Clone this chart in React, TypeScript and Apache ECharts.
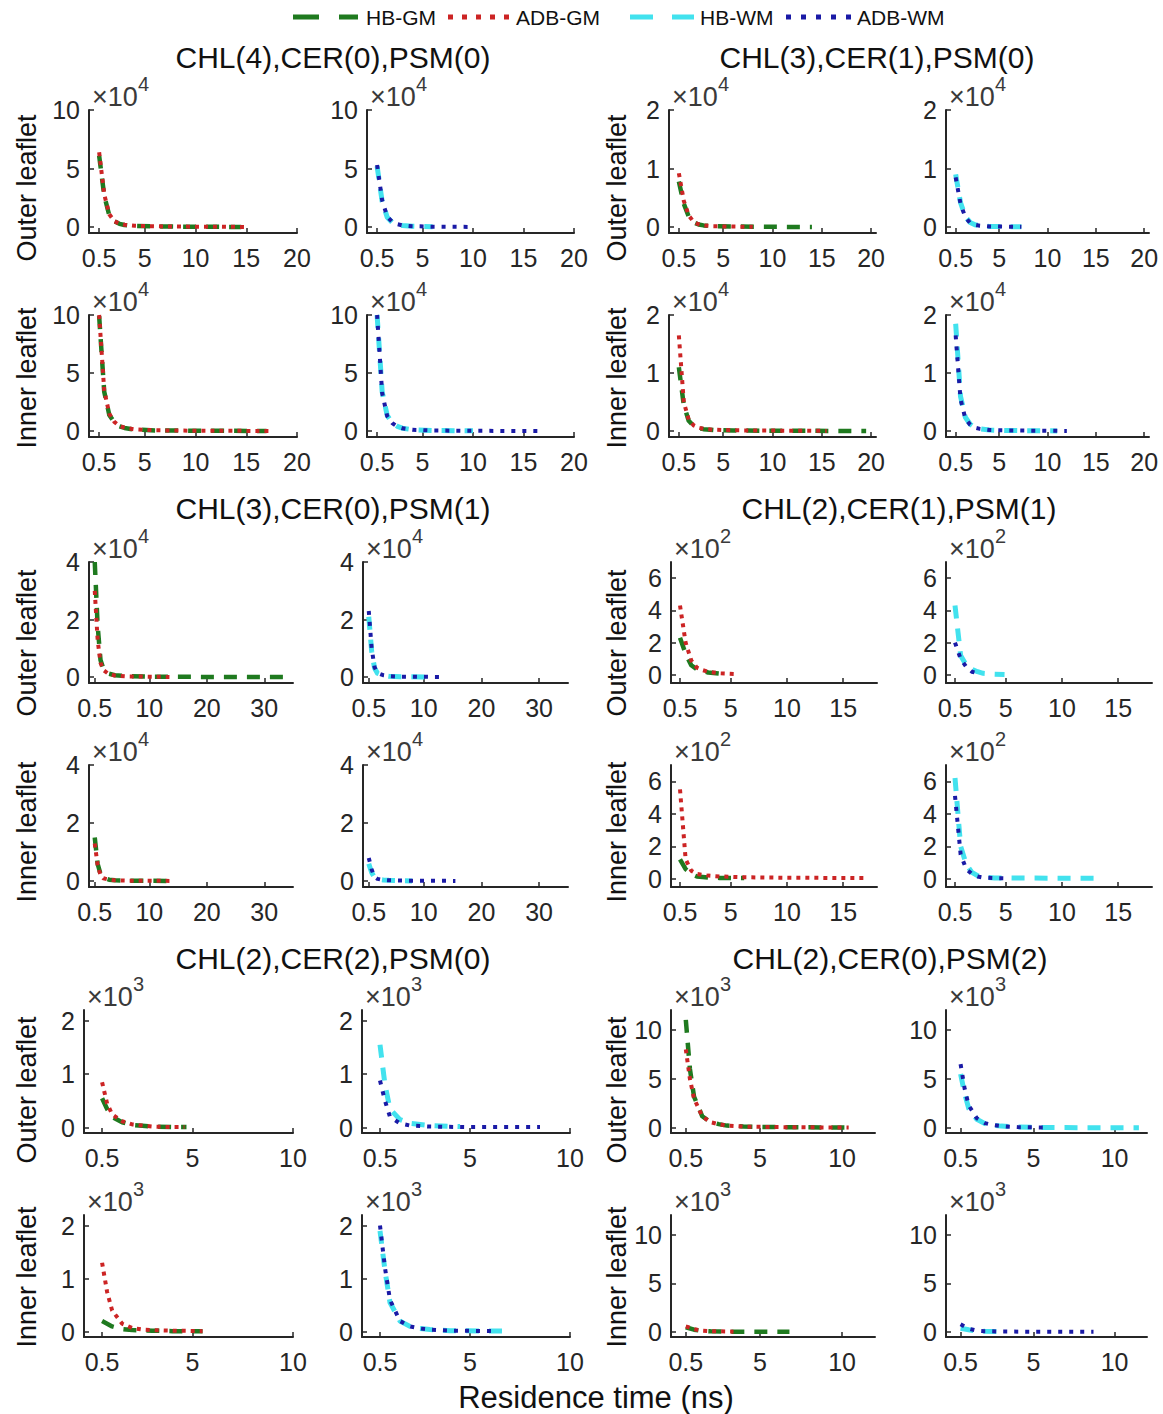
import React, { useEffect, useRef } from 'react';
import * as echarts from 'echarts';

type Pt = [number, number];

// ---------------- texts ----------------
const SERIES_NAMES = ['HB-GM', 'ADB-GM', 'HB-WM', 'ADB-WM'];
const GROUP_TITLES = [
  'CHL(4),CER(0),PSM(0)',
  'CHL(3),CER(1),PSM(0)',
  'CHL(3),CER(0),PSM(1)',
  'CHL(2),CER(1),PSM(1)',
  'CHL(2),CER(2),PSM(0)',
  'CHL(2),CER(0),PSM(2)',
];
const LEAFLET_NAMES = ['Outer leaflet', 'Inner leaflet'];
const X_AXIS_TITLE = 'Residence time (ns)';

// ---------------- axes (per group) ----------------
const GROUP_EXPONENTS = [4, 4, 4, 2, 3, 3];
const GROUP_X_TICKS = [
  [0.5, 5, 10, 15, 20],
  [0.5, 5, 10, 15, 20],
  [0.5, 10, 20, 30],
  [0.5, 5, 10, 15],
  [0.5, 5, 10],
  [0.5, 5, 10],
];
const GROUP_Y_TICKS = [
  [0, 5, 10],
  [0, 1, 2],
  [0, 2, 4],
  [0, 2, 4, 6],
  [0, 1, 2],
  [0, 5, 10],
];
const GROUP_X_LIMITS = [
  [-0.5, 20],
  [-0.5, 20.5],
  [-0.5, 35],
  [-0.3, 18],
  [-0.4, 10],
  [-0.4, 12],
];
const GROUP_Y_LIMITS = [
  [-0.5, 10],
  [-0.1, 2],
  [-0.2, 4],
  [-0.5, 7],
  [-0.1, 2.2],
  [-0.5, 12],
];

// ---------------- data (values in units of 10^exponent) ----------------
// Group 1: CHL(4),CER(0),PSM(0)  x10^4
const D1_OUT_HBGM: Pt[] = [[0.5, 6.1], [1, 2.7], [1.5, 1.0], [2, 0.5], [2.5, 0.28], [3, 0.18], [4, 0.1], [6, 0.06], [10, 0.03], [14.5, 0.02]];
const D1_OUT_ADBGM: Pt[] = [[0.5, 6.4], [1, 2.8], [1.5, 1.1], [2, 0.5], [2.5, 0.3], [3, 0.2], [4, 0.12], [6, 0.07], [10, 0.04], [15, 0.02]];
const D1_OUT_HBWM: Pt[] = [[0.5, 5.2], [1, 2.2], [1.5, 0.85], [2, 0.4], [2.5, 0.22], [3, 0.14], [4, 0.07], [6, 0.03]];
const D1_OUT_ADBWM: Pt[] = [[0.5, 5.3], [1, 2.3], [1.5, 0.9], [2, 0.45], [2.5, 0.25], [3, 0.15], [4, 0.08], [6, 0.04], [10, 0.02]];
const D1_IN_HBGM: Pt[] = [[0.5, 9.9], [1, 3.4], [1.5, 1.4], [2, 0.75], [2.5, 0.42], [3, 0.28], [4, 0.14], [6, 0.07], [10, 0.04], [17, 0.02]];
const D1_IN_ADBGM: Pt[] = [[0.5, 10], [1, 3.5], [1.5, 1.5], [2, 0.8], [2.5, 0.45], [3, 0.3], [4, 0.15], [6, 0.08], [10, 0.04], [17.5, 0.02]];
const D1_IN_HBWM: Pt[] = [[0.5, 10], [1, 3.4], [1.5, 1.35], [2, 0.72], [2.5, 0.42], [3, 0.26], [4, 0.13], [6, 0.06], [10, 0.03]];
const D1_IN_ADBWM: Pt[] = [[0.5, 10], [1, 3.3], [1.5, 1.3], [2, 0.7], [2.5, 0.4], [3, 0.25], [4, 0.12], [6, 0.06], [10, 0.03], [16.5, 0.02]];

// Group 2: CHL(3),CER(1),PSM(0)  x10^4
const D2_OUT_HBGM: Pt[] = [[0.5, 0.78], [1, 0.4], [1.5, 0.18], [2, 0.08], [2.5, 0.045], [3, 0.03], [4, 0.015], [6, 0.01], [10, 0.005], [14, 0.003]];
const D2_OUT_ADBGM: Pt[] = [[0.5, 0.92], [1, 0.45], [1.5, 0.2], [2, 0.09], [2.5, 0.05], [3, 0.03], [4, 0.015], [6, 0.01], [8, 0.005]];
const D2_OUT_HBWM: Pt[] = [[0.5, 0.9], [1, 0.42], [1.5, 0.18], [2, 0.08], [2.5, 0.04], [3, 0.025], [4, 0.012], [7.3, 0.005]];
const D2_OUT_ADBWM: Pt[] = [[0.5, 0.85], [1, 0.4], [1.5, 0.17], [2, 0.07], [2.5, 0.04], [3, 0.025], [4, 0.012], [7.3, 0.005]];
const D2_IN_HBGM: Pt[] = [[0.5, 1.1], [1, 0.45], [1.5, 0.18], [2, 0.09], [2.5, 0.055], [3, 0.035], [4, 0.02], [6, 0.012], [10, 0.008], [16, 0.005], [19.5, 0.003]];
const D2_IN_ADBGM: Pt[] = [[0.5, 1.65], [1, 0.5], [1.5, 0.2], [2, 0.1], [2.5, 0.06], [3, 0.04], [4, 0.025], [6, 0.015], [10, 0.01], [15.5, 0.005]];
const D2_IN_HBWM: Pt[] = [[0.5, 1.85], [1, 0.6], [1.5, 0.24], [2, 0.12], [2.5, 0.065], [3, 0.04], [4, 0.02], [6, 0.012], [11, 0.005]];
const D2_IN_ADBWM: Pt[] = [[0.5, 1.65], [1, 0.55], [1.5, 0.22], [2, 0.11], [2.5, 0.06], [3, 0.04], [4, 0.02], [6, 0.012], [12, 0.005]];

// Group 3: CHL(3),CER(0),PSM(1)  x10^4
const D3_OUT_HBGM: Pt[] = [[0.5, 4.0], [1, 1.8], [1.5, 0.6], [2, 0.3], [3, 0.12], [4, 0.07], [6, 0.04], [10, 0.02], [20, 0.01], [34, 0.005]];
const D3_OUT_ADBGM: Pt[] = [[0.5, 3.0], [1, 1.3], [1.5, 0.5], [2, 0.25], [3, 0.1], [4, 0.06], [6, 0.03], [10, 0.02], [13.5, 0.01]];
const D3_OUT_HBWM: Pt[] = [[0.5, 2.1], [1, 0.9], [1.5, 0.32], [2, 0.14], [3, 0.06], [4, 0.035], [6, 0.02], [11.5, 0.01]];
const D3_OUT_ADBWM: Pt[] = [[0.5, 2.3], [1, 1.0], [1.5, 0.35], [2, 0.15], [3, 0.07], [4, 0.04], [6, 0.02], [13.5, 0.01]];
const D3_IN_HBGM: Pt[] = [[0.5, 1.5], [1, 0.6], [1.5, 0.25], [2, 0.12], [3, 0.05], [4, 0.03], [6, 0.02], [13, 0.01]];
const D3_IN_ADBGM: Pt[] = [[0.5, 1.3], [1, 0.55], [1.5, 0.22], [2, 0.1], [3, 0.05], [4, 0.03], [6, 0.02], [13.5, 0.01]];
const D3_IN_HBWM: Pt[] = [[0.5, 0.6], [1, 0.3], [1.5, 0.12], [2, 0.07], [3, 0.04], [4, 0.03], [6, 0.02], [8, 0.01]];
const D3_IN_ADBWM: Pt[] = [[0.5, 0.8], [1, 0.4], [1.5, 0.15], [2, 0.08], [3, 0.04], [4, 0.03], [6, 0.02], [15.5, 0.01]];

// Group 4: CHL(2),CER(1),PSM(1)  x10^2
const D4_OUT_HBGM: Pt[] = [[0.5, 2.3], [1, 1.3], [1.5, 0.6], [2, 0.35], [2.5, 0.25], [3, 0.15], [4, 0.08], [4.8, 0.05]];
const D4_OUT_ADBGM: Pt[] = [[0.5, 4.3], [1, 2.0], [1.5, 0.9], [2, 0.45], [2.5, 0.3], [3, 0.2], [4, 0.1], [5.7, 0.05]];
const D4_OUT_HBWM: Pt[] = [[0.5, 4.3], [1, 1.2], [1.5, 0.6], [2, 0.35], [2.5, 0.2], [3, 0.1], [4, 0.05], [4.9, 0.03]];
const D4_OUT_ADBWM: Pt[] = [[0.5, 2.0], [1, 1.0], [1.5, 0.5], [2, 0.2], [2.7, 0.08]];
const D4_IN_HBGM: Pt[] = [[0.5, 1.2], [1, 0.6], [1.5, 0.3], [2, 0.15], [3, 0.08], [4, 0.06], [6.2, 0.05]];
const D4_IN_ADBGM: Pt[] = [[0.5, 5.5], [1, 1.2], [1.5, 0.5], [2, 0.3], [3, 0.2], [4, 0.15], [6, 0.1], [10, 0.07], [16.8, 0.05]];
const D4_IN_HBWM: Pt[] = [[0.5, 6.2], [1, 2.0], [1.5, 0.9], [2, 0.4], [2.5, 0.2], [3, 0.1], [4, 0.06], [6, 0.05], [10, 0.04], [13, 0.03]];
const D4_IN_ADBWM: Pt[] = [[0.5, 5.1], [1, 1.5], [1.5, 0.6], [2, 0.3], [2.5, 0.15], [3, 0.08], [4, 0.05], [5.3, 0.03]];

// Group 5: CHL(2),CER(2),PSM(0)  x10^3
const D5_OUT_HBGM: Pt[] = [[0.5, 0.55], [0.75, 0.35], [1, 0.2], [1.5, 0.1], [2, 0.05], [2.5, 0.035], [3, 0.02], [4, 0.01], [4.7, 0.01]];
const D5_OUT_ADBGM: Pt[] = [[0.5, 0.85], [0.75, 0.45], [1, 0.25], [1.5, 0.12], [2, 0.06], [2.5, 0.04], [3, 0.02], [4, 0.01], [4.6, 0.01]];
const D5_OUT_HBWM: Pt[] = [[0.5, 1.55], [0.75, 0.8], [1, 0.35], [1.5, 0.15], [2, 0.08], [3, 0.04], [4.5, 0.02]];
const D5_OUT_ADBWM: Pt[] = [[0.5, 0.88], [0.75, 0.5], [1, 0.2], [1.5, 0.08], [2, 0.04], [3, 0.02], [5, 0.01], [8.5, 0.01]];
const D5_IN_HBGM: Pt[] = [[0.5, 0.2], [0.75, 0.15], [1, 0.1], [1.5, 0.05], [2, 0.03], [3, 0.02], [4, 0.01], [5.5, 0.01]];
const D5_IN_ADBGM: Pt[] = [[0.5, 1.3], [0.75, 0.75], [1, 0.4], [1.5, 0.15], [2, 0.07], [2.5, 0.04], [3, 0.03], [4, 0.02], [5.5, 0.01]];
const D5_IN_HBWM: Pt[] = [[0.5, 1.9], [0.75, 1.15], [1, 0.55], [1.5, 0.2], [2, 0.1], [2.5, 0.06], [3, 0.04], [4, 0.02], [7, 0.01]];
const D5_IN_ADBWM: Pt[] = [[0.5, 2.0], [0.75, 1.2], [1, 0.6], [1.5, 0.2], [2, 0.1], [2.5, 0.06], [3, 0.04], [4, 0.02], [6.4, 0.01]];

// Group 6: CHL(2),CER(0),PSM(2)  x10^3
const D6_OUT_HBGM: Pt[] = [[0.5, 11], [0.75, 6], [1, 3.2], [1.5, 1.2], [2, 0.6], [2.5, 0.4], [3, 0.25], [4, 0.15], [6, 0.1], [10.4, 0.05]];
const D6_OUT_ADBGM: Pt[] = [[0.5, 8], [0.75, 5], [1, 3], [1.5, 1.2], [2, 0.6], [2.5, 0.4], [3, 0.25], [4, 0.15], [6, 0.1], [10.4, 0.05]];
const D6_OUT_HBWM: Pt[] = [[0.5, 5.5], [0.75, 3.5], [1, 2.0], [1.5, 0.9], [2, 0.45], [2.5, 0.3], [3, 0.2], [4, 0.1], [6, 0.05], [11.5, 0.03]];
const D6_OUT_ADBWM: Pt[] = [[0.5, 6.5], [0.75, 4], [1, 2.3], [1.5, 1.0], [2, 0.5], [2.5, 0.3], [3, 0.2], [4, 0.1], [5.9, 0.05]];
const D6_IN_HBGM: Pt[] = [[0.5, 0.5], [1, 0.25], [1.5, 0.12], [2, 0.08], [3, 0.05], [6.8, 0.03]];
const D6_IN_ADBGM: Pt[] = [[0.5, 0.6], [1, 0.3], [1.5, 0.15], [2, 0.1], [3.4, 0.05]];
const D6_IN_HBWM: Pt[] = [[0.5, 0.4], [1, 0.25], [1.5, 0.12], [2, 0.08], [2.8, 0.05]];
const D6_IN_ADBWM: Pt[] = [[0.5, 0.8], [1, 0.35], [1.5, 0.15], [2, 0.1], [3, 0.06], [5, 0.04], [8.7, 0.03]];

const GROUP_DATA: Pt[][][][] = [
  [[D1_OUT_HBGM, D1_OUT_ADBGM, D1_OUT_HBWM, D1_OUT_ADBWM], [D1_IN_HBGM, D1_IN_ADBGM, D1_IN_HBWM, D1_IN_ADBWM]],
  [[D2_OUT_HBGM, D2_OUT_ADBGM, D2_OUT_HBWM, D2_OUT_ADBWM], [D2_IN_HBGM, D2_IN_ADBGM, D2_IN_HBWM, D2_IN_ADBWM]],
  [[D3_OUT_HBGM, D3_OUT_ADBGM, D3_OUT_HBWM, D3_OUT_ADBWM], [D3_IN_HBGM, D3_IN_ADBGM, D3_IN_HBWM, D3_IN_ADBWM]],
  [[D4_OUT_HBGM, D4_OUT_ADBGM, D4_OUT_HBWM, D4_OUT_ADBWM], [D4_IN_HBGM, D4_IN_ADBGM, D4_IN_HBWM, D4_IN_ADBWM]],
  [[D5_OUT_HBGM, D5_OUT_ADBGM, D5_OUT_HBWM, D5_OUT_ADBWM], [D5_IN_HBGM, D5_IN_ADBGM, D5_IN_HBWM, D5_IN_ADBWM]],
  [[D6_OUT_HBGM, D6_OUT_ADBGM, D6_OUT_HBWM, D6_OUT_ADBWM], [D6_IN_HBGM, D6_IN_ADBGM, D6_IN_HBWM, D6_IN_ADBWM]],
];

// ---------------- styles & layout ----------------
const FONT = '"Liberation Sans", Arial, Helvetica, sans-serif';
const INK = '#262626';
const SERIES_STYLE = [
  { color: '#1f7a1f', width: 4.5, dash: [13, 10] },
  { color: '#cc2424', width: 4, dash: [4, 5] },
  { color: '#42e2ee', width: 5, dash: [13, 10] },
  { color: '#1a1aa6', width: 4, dash: [4, 7] },
];
const LEGEND_SAMPLE_DASH = [[26, 20], [5, 9], [23, 19], [5, 10]];
const LEGEND_SAMPLE_X = [[293, 358], [448, 510], [630, 694], [786, 852]];
const LEGEND_TEXT_X = [366, 516, 700, 857];
const LEGEND_Y = 17;

const COL_X: number[][][] = [
  [[89, 297], [367, 574], [669, 876], [946, 1149]],
  [[89, 293], [363, 568], [671, 877], [946, 1152]],
  [[84, 293], [362, 570], [671, 875], [946, 1147]],
];
const ROW_Y: number[][][] = [
  [[110, 233], [315, 437]],
  [[562, 683], [765, 887]],
  [[1010, 1133], [1215, 1337]],
];
const TITLE_POS = [[333, 57], [877, 57], [333, 508], [899, 508], [333, 958], [890, 958]];
const NAME_X = [27, 617];
const NAME_Y = [[188, 378], [643, 832], [1090, 1277]];

function buildOption() {
  const grid: any[] = [];
  const xAxis: any[] = [];
  const yAxis: any[] = [];
  const series: any[] = [];
  const graphic: any[] = [];

  for (let g = 0; g < 6; g++) {
    const row = Math.floor(g / 2);
    const side = g % 2;
    graphic.push({
      type: 'text', x: TITLE_POS[g][0], y: TITLE_POS[g][1], silent: true,
      style: { text: GROUP_TITLES[g], font: `30px ${FONT}`, fill: '#111', align: 'center', verticalAlign: 'middle' },
    });
    for (let leaf = 0; leaf < 2; leaf++) {
      for (let env = 0; env < 2; env++) {
        const col = side * 2 + env;
        const idx = grid.length;
        const [x0, x1] = COL_X[row][col];
        const [y0, y1] = ROW_Y[row][leaf];
        grid.push({ left: x0, top: y0, width: x1 - x0, height: y1 - y0, containLabel: false, outerBoundsMode: 'none' });
        xAxis.push({
          type: 'value', gridIndex: idx, min: GROUP_X_LIMITS[g][0], max: GROUP_X_LIMITS[g][1],
          splitLine: { show: false },
          axisLine: { show: true, onZero: false, lineStyle: { color: INK, width: 2 } },
          axisTick: { show: true, inside: true, length: 5, customValues: GROUP_X_TICKS[g], lineStyle: { color: INK, width: 1.5 } },
          axisLabel: { show: true, customValues: GROUP_X_TICKS[g], fontSize: 25, fontFamily: FONT, color: INK, margin: 12, formatter: (v: number) => String(v) },
        });
        yAxis.push({
          type: 'value', gridIndex: idx, min: GROUP_Y_LIMITS[g][0], max: GROUP_Y_LIMITS[g][1],
          splitLine: { show: false },
          axisLine: { show: true, onZero: false, lineStyle: { color: INK, width: 2 } },
          axisTick: { show: true, inside: true, length: 5, customValues: GROUP_Y_TICKS[g], lineStyle: { color: INK, width: 1.5 } },
          axisLabel: { show: true, customValues: GROUP_Y_TICKS[g], fontSize: 25, fontFamily: FONT, color: INK, margin: 9, formatter: (v: number) => String(v) },
        });
        for (let k = 0; k < 2; k++) {
          const si = env * 2 + k;
          const st = SERIES_STYLE[si];
          series.push({
            type: 'line', name: SERIES_NAMES[si], xAxisIndex: idx, yAxisIndex: idx,
            data: GROUP_DATA[g][leaf][si], showSymbol: false, symbol: 'none', silent: true,
            z: 2 + k,
            lineStyle: { color: st.color, width: st.width, type: st.dash, cap: 'butt', join: 'round' },
          });
        }
        // multiplier label
        graphic.push({
          type: 'text', x: x0 + 3, y: y0 - 13, silent: true,
          style: { text: '×10', font: `27px ${FONT}`, fill: '#3a3a3a', align: 'left', verticalAlign: 'middle' },
        });
        graphic.push({
          type: 'text', x: x0 + 49, y: y0 - 26, silent: true,
          style: { text: String(GROUP_EXPONENTS[g]), font: `20px ${FONT}`, fill: '#3a3a3a', align: 'left', verticalAlign: 'middle' },
        });
        if (env === 0) {
          graphic.push({
            type: 'text', x: NAME_X[side], y: NAME_Y[row][leaf], rotation: Math.PI / 2, silent: true,
            style: { text: LEAFLET_NAMES[leaf], font: `27px ${FONT}`, fill: '#111', align: 'center', verticalAlign: 'middle' },
          });
        }
      }
    }
  }

  // legend
  for (let i = 0; i < 4; i++) {
    const st = SERIES_STYLE[i];
    graphic.push({
      type: 'line', silent: true,
      shape: { x1: LEGEND_SAMPLE_X[i][0], y1: LEGEND_Y, x2: LEGEND_SAMPLE_X[i][1], y2: LEGEND_Y },
      style: { stroke: st.color, lineWidth: 5, lineDash: LEGEND_SAMPLE_DASH[i], lineCap: 'butt' },
    });
    graphic.push({
      type: 'text', x: LEGEND_TEXT_X[i], y: LEGEND_Y, silent: true,
      style: { text: SERIES_NAMES[i], font: `21px ${FONT}`, fill: '#111', align: 'left', verticalAlign: 'middle' },
    });
  }

  graphic.push({
    type: 'text', x: 596, y: 1397, silent: true,
    style: { text: X_AXIS_TITLE, font: `31px ${FONT}`, fill: '#111', align: 'center', verticalAlign: 'middle' },
  });

  return {
    animation: false,
    backgroundColor: '#ffffff',
    grid, xAxis, yAxis, series, graphic,
  };
}

export default function App() {
  const ref = useRef<HTMLDivElement>(null);
  useEffect(() => {
    if (!ref.current) return;
    const chart = echarts.init(ref.current, undefined, { renderer: 'svg' });
    chart.setOption(buildOption() as any);
    return () => chart.dispose();
  }, []);
  return (
    <div
      ref={ref}
      style={{ position: 'absolute', left: 0, top: 0, width: 1163, height: 1414, background: '#fff' }}
    />
  );
}
